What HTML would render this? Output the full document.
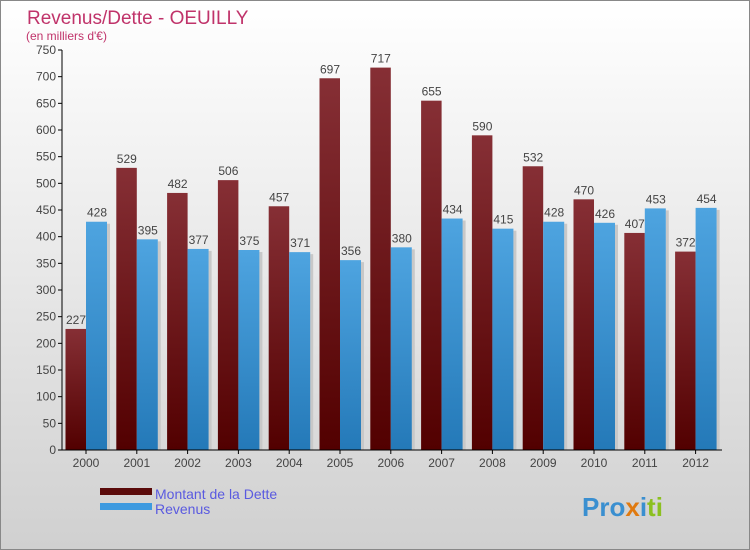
<!DOCTYPE html>
<html><head><meta charset="utf-8"><style>
body{margin:0;}
#c{width:750px;height:550px;position:relative;overflow:hidden;font-family:"Liberation Sans",sans-serif;}
</style></head><body>
<div id="c">
<svg width="750" height="550" xmlns="http://www.w3.org/2000/svg">
<defs>
<linearGradient id="bg" x1="0" y1="0" x2="0" y2="1"><stop offset="0" stop-color="#ffffff"/><stop offset="1" stop-color="#d0d0d0"/></linearGradient>
<linearGradient id="gd" x1="0" y1="0" x2="0" y2="1"><stop offset="0" stop-color="#862f35"/><stop offset="1" stop-color="#520000"/></linearGradient>
<linearGradient id="gb" x1="0" y1="0" x2="0" y2="1"><stop offset="0" stop-color="#4ea4e0"/><stop offset="1" stop-color="#2479b8"/></linearGradient>
</defs>
<rect x="0.5" y="0.5" width="749" height="549" fill="url(#bg)" stroke="#888"/>
<text x="27" y="24" font-size="19" fill="#c0336a">Revenus/Dette - OEUILLY</text>
<text x="26" y="40" font-size="12" fill="#c0336a">(en milliers d'€)</text>
<g id="plot"></g>
<rect x="100" y="488" width="52" height="7" fill="#5a0a0a"/>
<text x="155" y="499" font-size="14" fill="#5a5ae0">Montant de la Dette</text>
<rect x="100" y="503" width="52" height="7" fill="#3d9ae0"/>
<text x="155" y="514" font-size="14" fill="#5a5ae0">Revenus</text>
<text x="582" y="516" font-size="26" font-weight="bold" fill="#3a8fd0"><tspan fill="#3a8fd0">Pro</tspan><tspan fill="#e07a10">x</tspan><tspan fill="#3a8fd0">i</tspan><tspan fill="#8cc020">ti</tspan></text>
</svg>
</div>
<script>
const years=["2000","2001","2002","2003","2004","2005","2006","2007","2008","2009","2010","2011","2012"];
const dette=[227,529,482,506,457,697,717,655,590,532,470,407,372];
const revenus=[428,395,377,375,371,356,380,434,415,428,426,453,454];
const yTicks=[0,50,100,150,200,250,300,350,400,450,500,550,600,650,700,750];
const NS="http://www.w3.org/2000/svg";
const g=document.getElementById('plot');
const x0=62,gw=50.8,y0=450,yMax=750,ph=400;
function y(v){return y0-v/yMax*ph;}
function gx(i){return x0+i*gw;}
function mk(t,a){const e=document.createElementNS(NS,t);for(const k in a)e.setAttribute(k,a[k]);g.appendChild(e);return e;}
yTicks.forEach(v=>{
  const l=mk('line',{x1:58,x2:62,y1:y(v),y2:y(v),stroke:'#000'});
  
  
  const t=mk('text',{x:56,y:y(v)+4,'font-size':12,'text-anchor':'end',fill:'#444'});
  t.textContent=v;
  
  
});
years.forEach((yr,i)=>{
  const sh=mk('rect',{x:gx(i)+45,y:y(revenus[i])+2,width:3,height:y0-y(revenus[i])-2,fill:'#c8c8c8'});
  
  
  const d=mk('rect',{x:gx(i)+3.5,y:y(dette[i]),width:20.5,height:y0-y(dette[i]),fill:'url(#gd)'});
  
  
  const b=mk('rect',{x:gx(i)+24,y:y(revenus[i]),width:21,height:y0-y(revenus[i]),fill:'url(#gb)'});
  
  
  const td=mk('text',{x:gx(i)+14,y:y(dette[i])-5,'font-size':12,'text-anchor':'middle',fill:'#444'});
  td.textContent=dette[i];
  
  
  const tb=mk('text',{x:gx(i)+35,y:y(revenus[i])-5,'font-size':12,'text-anchor':'middle',fill:'#444'});
  tb.textContent=revenus[i];
  
  
  const tk=mk('line',{x1:gx(i)+24,x2:gx(i)+24,y1:450,y2:454,stroke:'#000'});
  
  
  const xl=mk('text',{x:gx(i)+24,y:467,'font-size':12,'text-anchor':'middle',fill:'#444'});
  xl.textContent=yr;
  
  
});
const ax=mk('line',{x1:62,x2:62,y1:50,y2:450,stroke:'#000'});


const bx=mk('line',{x1:58,x2:722,y1:450,y2:450,stroke:'#000'});


</script>
</body></html>
